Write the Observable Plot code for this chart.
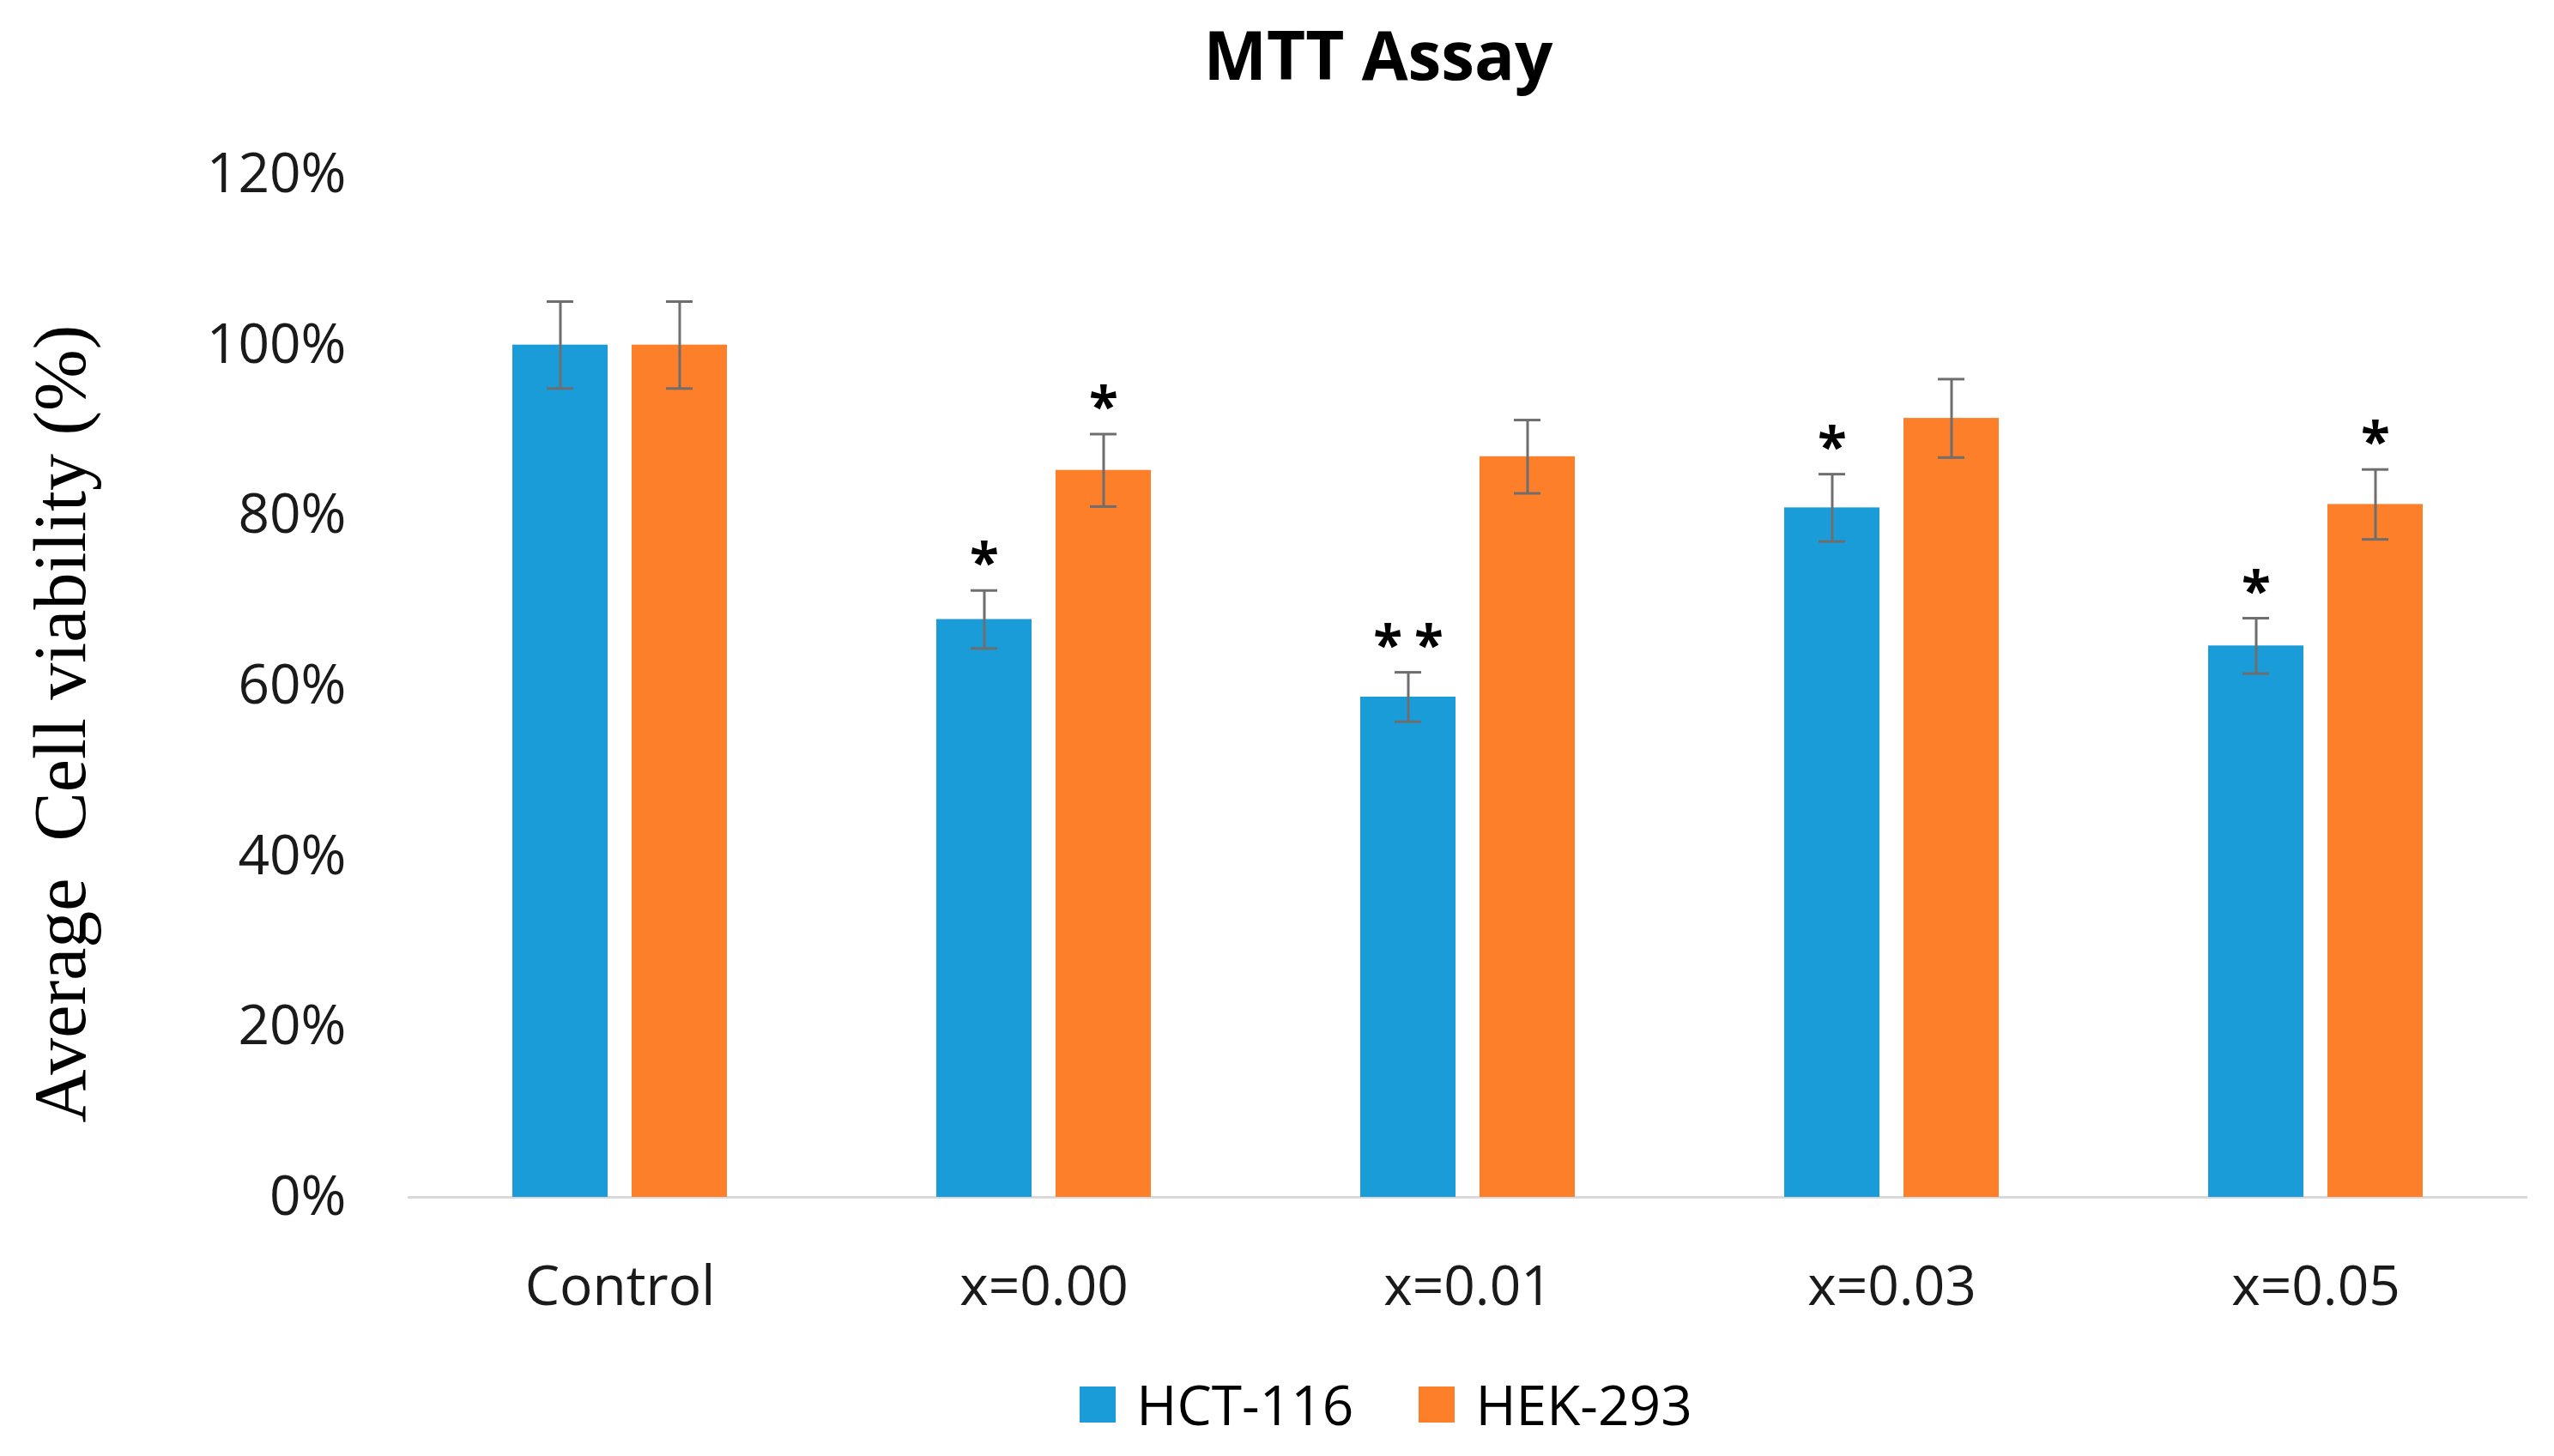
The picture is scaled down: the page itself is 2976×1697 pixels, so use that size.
<!DOCTYPE html>
<html>
<head>
<meta charset="utf-8">
<script src="https://cdn.jsdelivr.net/npm/d3@7"></script>
<script src="https://cdn.jsdelivr.net/npm/@observablehq/plot@0.6"></script>
<style>
  html, body { margin: 0; padding: 0; background: #fff; }
  #title {
    height: 130px; box-sizing: border-box; padding-top: 24px; padding-left: 236px;
    text-align: center; font: bold 78px/78px "Open Sans", sans-serif; color: #000;
  }
  #legend {
    height: 142px; box-sizing: border-box; padding-top: 50px; padding-left: 254px;
    display: flex; justify-content: center; align-items: flex-start;
    font: 64px/64px "Open Sans", sans-serif; color: #000;
  }
  .item { display: flex; align-items: center; height: 64px; }
  .item + .item { margin-left: 76px; }
  .sw { width: 42px; height: 42px; margin-right: 24px; }
</style>
</head>
<body>
<div id="title">MTT Assay</div>
<div id="chart"></div>
<div id="legend"></div>
<script>
const categories = ["Control", "x=0.00", "x=0.01", "x=0.03", "x=0.05"];
const seriesNames = ["HCT-116", "HEK-293"];
const hctValues = [100, 67.8, 58.7, 80.9, 64.7];
const hekValues = [100, 85.3, 86.9, 91.4, 81.3];
const hctErrors = [5.1, 3.4, 2.9, 3.95, 3.25];
const hekErrors = [5.1, 4.25, 4.3, 4.6, 4.1];
const hctSignif = ["", "*", "**", "*", "*"];
const hekSignif = ["", "*", "", "", "*"];
const seriesColors = ["#1A9CD8", "#FE7F2A"];
const yTicks = [0, 20, 40, 60, 80, 100, 120];
const yLabel = "Average  Cell viability (%)";
const titleText = "MTT Assay";

const rows = [];
categories.forEach((c, i) => {
  rows.push({category: c, series: seriesNames[0], value: hctValues[i], err: hctErrors[i], sig: hctSignif[i]});
  rows.push({category: c, series: seriesNames[1], value: hekValues[i], err: hekErrors[i], sig: hekSignif[i]});
});

document.getElementById("title").textContent = titleText;

const errColor = "#6e6e6e";
const chart = Plot.plot({
  width: 2976,
  height: 1425,
  marginTop: 73,
  marginLeft: 474,
  marginRight: 30,
  marginBottom: 160,
  style: {fontFamily: "'Open Sans', sans-serif", fontSize: "64px", color: "#1a1a1a", background: "#fff"},
  fx: {domain: categories, paddingInner: 0, paddingOuter: 0, label: null, axis: "bottom", tickSize: 0, tickPadding: 80},
  x: {domain: seriesNames, paddingInner: 0.2, paddingOuter: 0.866, axis: null},
  y: {domain: [0, 120], ticks: yTicks, tickFormat: d => d + "%", tickSize: 0, tickPadding: 72, label: null, grid: false},
  color: {domain: seriesNames, range: seriesColors},
  marks: [
    Plot.ruleY([0], {stroke: "#d9d9d9", strokeWidth: 3}),
    Plot.barY(rows, {fx: "category", x: "series", y: "value", fill: "series"}),
    Plot.ruleX(rows, {fx: "category", x: "series", y1: d => d.value - d.err, y2: d => d.value + d.err, stroke: errColor, strokeWidth: 3}),
    Plot.tickY(rows, {fx: "category", x: "series", y: d => d.value + d.err, insetLeft: 40, insetRight: 40, stroke: errColor, strokeWidth: 3}),
    Plot.tickY(rows, {fx: "category", x: "series", y: d => d.value - d.err, insetLeft: 40, insetRight: 40, stroke: errColor, strokeWidth: 3}),
    Plot.text(rows.filter(d => d.sig), {fx: "category", x: "series", y: d => d.value + d.err, text: "sig", lineAnchor: "bottom", dy: -10, fontSize: 62, fontWeight: "bold", fill: "#000"}),
    Plot.text([{category: categories[0], label: yLabel}], {fx: "category", text: "label", frameAnchor: "left", rotate: -90, dx: -404, dy: 44, fontFamily: "'Liberation Serif', 'Times New Roman', serif", fontSize: 86, fill: "#000", textAnchor: "middle"})
  ]
});
d3.select(chart).selectAll("text").filter(function() { return this.textContent === "**"; }).attr("letter-spacing", "14px").attr("dx", "7px");
document.getElementById("chart").appendChild(chart);

const legend = document.getElementById("legend");
seriesNames.forEach((s, i) => {
  const item = document.createElement("div");
  item.className = "item";
  const sw = document.createElement("div");
  sw.className = "sw";
  sw.style.background = seriesColors[i];
  const t = document.createElement("span");
  t.textContent = s;
  item.appendChild(sw);
  item.appendChild(t);
  legend.appendChild(item);
});
</script>
</body>
</html>
